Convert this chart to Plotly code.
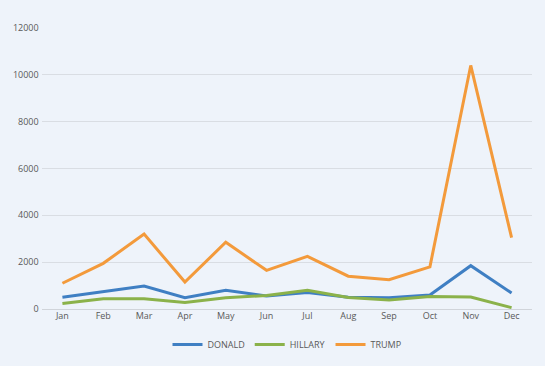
import plotly.graph_objects as go

months = ["Jan", "Feb", "Mar", "Apr", "May", "Jun", "Jul", "Aug", "Sep", "Oct", "Nov", "Dec"]
donald = [500, 750, 980, 480, 800, 560, 700, 500, 480, 600, 1850, 680]
hillary = [230, 440, 440, 280, 480, 580, 800, 490, 380, 530, 510, 60]
trump = [1100, 1950, 3200, 1150, 2850, 1650, 2250, 1400, 1250, 1800, 10400, 3050]

series = [("DONALD", donald, "#3F7FC3"), ("HILLARY", hillary, "#8BB24A"), ("TRUMP", trump, "#F39A3B")]

fig = go.Figure()
for name, vals, col in series:
    fig.add_trace(go.Scatter(x=months, y=vals, name=name, mode="lines",
                             line=dict(color=col, width=3)))

bg = "#EEF3FA"
fig.update_layout(
    width=545, height=366,
    paper_bgcolor=bg, plot_bgcolor=bg,
    margin=dict(l=42, r=13, t=28, b=57, autoexpand=False),
    font=dict(family="Open Sans, Liberation Sans, sans-serif", size=9, color="#595959"),
    xaxis=dict(range=[-0.5, 11.5], showgrid=False, zeroline=False, showline=False, ticks="",
               tickfont=dict(size=9, color="#595959"), fixedrange=True),
    yaxis=dict(range=[0, 12000], dtick=2000, showgrid=True, gridcolor="#D9DDE3", gridwidth=1,
               zeroline=True, zerolinecolor="#D0D4DA", zerolinewidth=1,
               showline=False, ticks="", tickformat="d", ticksuffix=" ",
               tickfont=dict(size=9, color="#595959"), fixedrange=True),
    legend=dict(orientation="h", x=0.5, xanchor="center", y=-0.075, yanchor="top",
                font=dict(size=9, color="#595959"), bgcolor="rgba(0,0,0,0)",
                itemwidth=30, tracegroupgap=0),
    showlegend=True,
)

fig.write_html("out.html", config={"displayModeBar": False},
               post_script="document.body.style.margin='0';document.body.style.overflow='hidden';")
